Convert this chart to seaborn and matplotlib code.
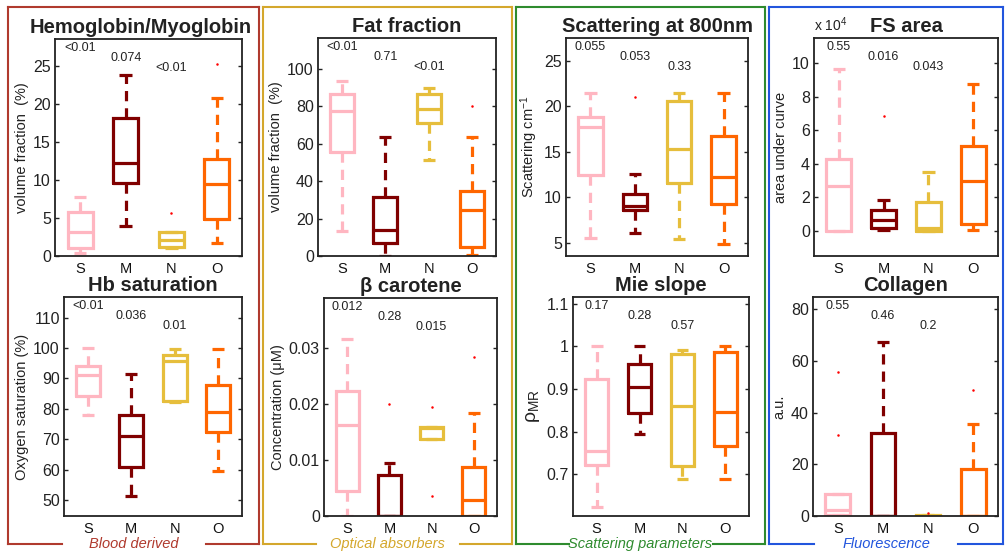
import matplotlib
matplotlib.use("Agg")
import matplotlib.pyplot as plt
import matplotlib.transforms as mtransforms
from matplotlib.lines import Line2D
import pandas as pd
import seaborn as sns

# ---------------------------------------------------------------------------
# Data: per group [lower whisker, Q1, median, Q3, upper whisker], outliers,
# and the p-values printed above the S, M and N boxes.
# ---------------------------------------------------------------------------
groups = ["S", "M", "N", "O"]
palette = {"S": "#FFB6C1", "M": "#800000", "N": "#E6BE3C", "O": "#FF6600"}

hemoglobin = {"S": [0.45, 1.0, 3.1, 5.8, 7.8],
              "M": [3.9, 9.6, 12.2, 18.1, 23.8],
              "N": [1.1, 1.2, 2.1, 3.1, 3.1],
              "O": [1.7, 4.8, 9.5, 12.7, 20.8]}
hemoglobin_out = {"N": [5.7], "O": [25.2]}
hemoglobin_p = ["<0.01", "0.074", "<0.01"]

hb_saturation = {"S": [78.1, 84.3, 91.0, 94.1, 100.0],
                 "M": [51.2, 60.7, 71.1, 78.1, 91.3],
                 "N": [82.2, 82.5, 95.8, 97.7, 99.6],
                 "O": [59.4, 72.4, 79.0, 87.8, 99.8]}
hb_saturation_out = {}
hb_saturation_p = ["<0.01", "0.036", "0.01"]

fat_fraction = {"S": [13.6, 55.4, 77.3, 86.6, 93.8],
                "M": [0.0, 6.8, 13.8, 31.6, 63.8],
                "N": [51.1, 71.1, 78.8, 86.6, 89.8],
                "O": [0.4, 5.0, 24.8, 35.0, 63.6]}
fat_fraction_out = {"O": [80.4]}
fat_fraction_p = ["<0.01", "0.71", "<0.01"]

beta_carotene = {"S": [0.0, 0.0044, 0.0163, 0.0224, 0.0316],
                 "M": [0.0, 0.0, 0.0, 0.0074, 0.0095],
                 "N": [0.0137, 0.0137, 0.0158, 0.0160, 0.0160],
                 "O": [0.0, 0.0, 0.0028, 0.0087, 0.0185]}
beta_carotene_out = {"M": [0.0201], "N": [0.0195, 0.0035], "O": [0.0285]}
beta_carotene_p = ["0.012", "0.28", "0.015"]

scattering = {"S": [5.5, 12.4, 17.7, 18.8, 21.5],
              "M": [6.1, 8.6, 9.0, 10.4, 12.5],
              "N": [5.4, 11.6, 15.3, 20.6, 21.5],
              "O": [4.9, 9.3, 12.2, 16.7, 21.4]}
scattering_out = {"M": [21.0]}
scattering_p = ["0.055", "0.053", "0.33"]

mie_slope = {"S": [0.623, 0.722, 0.754, 0.923, 1.0],
             "M": [0.794, 0.843, 0.906, 0.959, 1.0],
             "N": [0.689, 0.719, 0.860, 0.982, 0.992],
             "O": [0.689, 0.766, 0.846, 0.986, 1.0]}
mie_slope_out = {}
mie_slope_p = ["0.17", "0.28", "0.57"]

# area under the fluorescence curve, in units of 10^4
fs_area = {"S": [0.0, 0.0, 2.67, 4.30, 9.64],
           "M": [0.02, 0.18, 0.64, 1.24, 1.83],
           "N": [0.0, 0.0, 0.14, 1.73, 3.47],
           "O": [0.04, 0.4, 2.97, 5.06, 8.76]}
fs_area_out = {"M": [6.81]}
fs_area_p = ["0.55", "0.016", "0.043"]

collagen = {"S": [0.5, 0.5, 2.2, 8.4, 8.4],
            "M": [0.0, 0.0, 0.0, 32.2, 67.3],
            "N": [0.0, 0.0, 0.0, 0.5, 0.5],
            "O": [0.0, 0.0, 0.0, 18.2, 35.5]}
collagen_out = {"S": [55.8, 31.3], "N": [1.3], "O": [48.7]}
collagen_p = ["0.55", "0.46", "0.2"]

# ---------------------------------------------------------------------------
sns.set_theme(style="white")
plt.rcParams["font.family"] = ["Liberation Sans", "DejaVu Sans"]
plt.rcParams["mathtext.fontset"] = "custom"
plt.rcParams["mathtext.rm"] = "Liberation Sans"
plt.rcParams["mathtext.it"] = "Liberation Sans:italic"

W, H = 1006, 552
fig = plt.figure(figsize=(W / 100, H / 100), dpi=100)
fig.patch.set_facecolor("white")


def px_rect(left, top, right, bottom):
    return [left / W, 1 - bottom / H, (right - left) / W, (bottom - top) / H]


panels = [
    dict(summary=hemoglobin, out=hemoglobin_out, p=hemoglobin_p,
         title="Hemoglobin/Myoglobin", ylabel="volume fraction  (%)",
         ylim=(0, 28.5), yticks=[0, 5, 10, 15, 20, 25],
         rect=(55, 39, 242, 256), title_x=0.46),
    dict(summary=hb_saturation, out=hb_saturation_out, p=hb_saturation_p,
         title="Hb saturation", ylabel="Oxygen saturation (%)",
         ylim=(44.7, 116.8), yticks=[50, 60, 70, 80, 90, 100, 110],
         rect=(64, 297, 242, 516)),
    dict(summary=fat_fraction, out=fat_fraction_out, p=fat_fraction_p,
         title="Fat fraction", ylabel="volume fraction  (%)",
         ylim=(0, 116.6), yticks=[0, 20, 40, 60, 80, 100],
         rect=(318, 38, 496, 256)),
    dict(summary=beta_carotene, out=beta_carotene_out, p=beta_carotene_p,
         title="β carotene", ylabel="Concentration (μM)",
         ylim=(0, 0.039), yticks=[0, 0.01, 0.02, 0.03],
         rect=(324, 298, 497, 516)),
    dict(summary=scattering, out=scattering_out, p=scattering_p,
         title="Scattering at 800nm", ylabel="Scattering cm$^{-1}$",
         ylim=(3.53, 27.5), yticks=[5, 10, 15, 20, 25],
         rect=(566, 38, 748, 256)),
    dict(summary=mie_slope, out=mie_slope_out, p=mie_slope_p,
         title="Mie slope", ylabel=r"ρ$_{\mathrm{MR}}$",
         ylim=(0.6026, 1.116), yticks=[0.7, 0.8, 0.9, 1.0, 1.1],
         rect=(573, 297, 749, 516), ylabel_size=14),
    dict(summary=fs_area, out=fs_area_out, p=fs_area_p,
         title="FS area", ylabel="area under curve",
         ylim=(-1.51, 11.49), yticks=[0, 2, 4, 6, 8, 10],
         rect=(814, 38, 998, 256), multiplier=r"x 10$^4$"),
    dict(summary=collagen, out=collagen_out, p=collagen_p,
         title="Collagen", ylabel="a.u.",
         ylim=(0, 84.65), yticks=[0, 20, 40, 60, 80],
         rect=(813, 297, 998, 516)),
]

p_heights = [0.96, 0.913, 0.867]
LW = 2.3

for spec in panels:
    ax = fig.add_axes(px_rect(*spec["rect"]))
    summary = spec["summary"]
    box_df = pd.DataFrame([(g, v) for g in groups for v in summary[g]],
                          columns=["group", "value"])
    sns.boxplot(data=box_df, x="group", y="value", hue="group",
                order=groups, hue_order=groups, palette=palette,
                fill=False, whis=(0, 100), width=0.55, linewidth=LW,
                dodge=False, legend=False, ax=ax,
                whiskerprops=dict(linestyle=(0, (3.2, 2.2))),
                capprops=dict(solid_capstyle="butt"),
                boxprops=dict(solid_joinstyle="miter"))

    out_rows = [(g, v) for g in groups for v in spec["out"].get(g, [])]
    if out_rows:
        out_df = pd.DataFrame(out_rows, columns=["group", "value"])
        sns.stripplot(data=out_df, x="group", y="value", order=groups,
                      color="red", size=1.8, jitter=False, linewidth=0,
                      ax=ax)

    ax.set_xlim(-0.55, 3.55)
    ax.set_ylim(*spec["ylim"])
    ax.set_yticks(spec["yticks"])
    ax.set_yticklabels(["{:g}".format(t) for t in spec["yticks"]])
    ax.set_xlabel("")
    ax.set_ylabel(spec["ylabel"], fontsize=spec.get("ylabel_size", 10.5),
                  color="#222222", labelpad=3)
    ax.set_title(spec["title"], fontsize=14.5, fontweight="bold",
                 color="#222222", pad=4, x=spec.get("title_x", 0.5))
    ax.tick_params(axis="y", direction="in", left=True, right=True,
                   length=3, width=1, labelsize=11.5, colors="#222222",
                   pad=3)
    ax.tick_params(axis="x", bottom=False, length=0, labelsize=10.5,
                   colors="#111111", pad=4)
    for s in ax.spines.values():
        s.set_visible(True)
        s.set_color("#222222")
        s.set_linewidth(1.3)

    trans = mtransforms.blended_transform_factory(ax.transData, ax.transAxes)
    for i, (txt, yy) in enumerate(zip(spec["p"], p_heights)):
        ax.text(i, yy, txt, transform=trans, ha="center", va="center",
                fontsize=9, color="#222222")

    if "multiplier" in spec:
        ax.text(0.0, 1.02, spec["multiplier"], transform=ax.transAxes,
                ha="left", va="bottom", fontsize=10, color="#222222")

# Group frames with their captions set into the bottom edge
frames = [
    ("Blood derived", "#B03A2E", 8, 259),
    ("Optical absorbers", "#D4A72C", 263, 512),
    ("Scattering parameters", "#2E8B2E", 516, 765),
    ("Fluorescence", "#2255DD", 769, 1003),
]
top_px, bottom_px, half_gap = 7, 544, 72


def fig_line(x0, y0, x1, y1, color):
    fig.add_artist(Line2D([x0 / W, x1 / W], [1 - y0 / H, 1 - y1 / H],
                          transform=fig.transFigure, color=color,
                          linewidth=1.5, solid_capstyle="projecting"))


for label, color, x0, x1 in frames:
    xc = (x0 + x1) / 2
    fig_line(x0, top_px, x1, top_px, color)
    fig_line(x0, top_px, x0, bottom_px, color)
    fig_line(x1, top_px, x1, bottom_px, color)
    fig_line(x0, bottom_px, xc - half_gap, bottom_px, color)
    fig_line(xc + half_gap, bottom_px, x1, bottom_px, color)
    fig.text(xc / W, 1 - 551 / H, label, ha="center", va="bottom",
             fontsize=10.5, style="italic", color=color)

fig.savefig("out.png", dpi=100, facecolor="white")
